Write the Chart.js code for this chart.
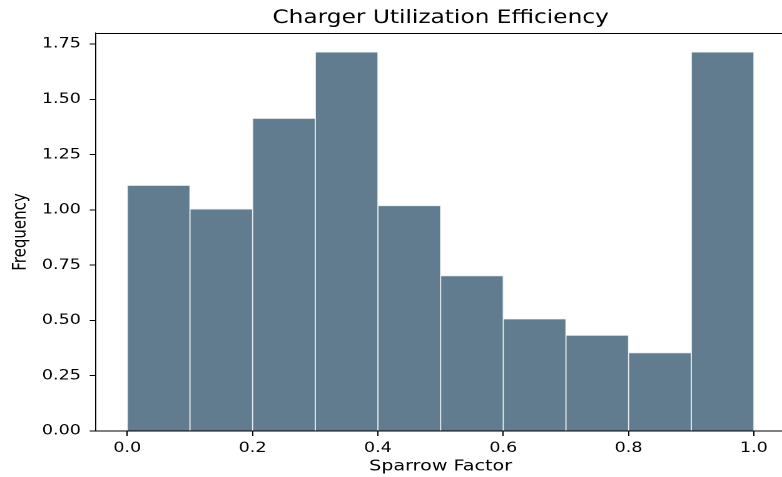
<!DOCTYPE html>
<html>
<head>
<meta charset="utf-8">
<title>Charger Utilization Efficiency</title>
<script src="https://cdn.jsdelivr.net/npm/chart.js@4"></script>
<style>
    html, body { margin: 0; padding: 0; background: #fff; overflow: hidden; }
    /* the reference is stretched sideways, so the chart is drawn narrower and scaled out */
    #wrap {
        position: absolute; left: 0; top: 0;
        width: 640px; height: 477px;
        transform: scaleX(1.2512); transform-origin: 0 0;
    }
</style>
</head>
<body>
<div id="wrap"><canvas id="histChart"></canvas></div>
<script>
// histogram data (density per bin)
const binEdges = [0.0, 0.1, 0.2, 0.3, 0.4, 0.5, 0.6, 0.7, 0.8, 0.9, 1.0];
const densities = [1.111, 1.004, 1.414, 1.714, 1.019, 0.702, 0.507, 0.433, 0.354, 1.714];
const xTicks = [0.0, 0.2, 0.4, 0.6, 0.8, 1.0];
const yTicks = [0.0, 0.25, 0.5, 0.75, 1.0, 1.25, 1.5, 1.75];

const FONT = 'DejaVu Sans';
const INK = '#000';

// bar centres come from the bin edges
const points = densities.map((d, i) => ({ x: (binEdges[i] + binEdges[i + 1]) / 2, y: d }));

// matplotlib-style top spine
const topSpine = {
    id: 'topSpine',
    afterDraw(chart) {
        const { ctx, chartArea } = chart;
        ctx.save();
        ctx.strokeStyle = INK;
        ctx.lineWidth = 1;
        ctx.beginPath();
        ctx.moveTo(chartArea.left, chartArea.top + 0.5);
        ctx.lineTo(chartArea.right, chartArea.top + 0.5);
        ctx.moveTo(chartArea.right - 0.5, chartArea.top);
        ctx.lineTo(chartArea.right - 0.5, chartArea.bottom);
        ctx.stroke();
        ctx.restore();
    }
};

new Chart(document.getElementById('histChart'), {
    type: 'bar',
    data: {
        datasets: [{
            label: 'Frequency',
            data: points,
            backgroundColor: '#607c8e',
            borderColor: '#e9eef1',
            borderWidth: 0.8,
            barPercentage: 1,
            categoryPercentage: 1
        }]
    },
    options: {
        responsive: true,
        maintainAspectRatio: false,
        animation: false,
        devicePixelRatio: 2,
        layout: { padding: { left: 4, right: 12.4, top: 0, bottom: 0 } },
        plugins: {
            legend: { display: false },
            tooltip: { enabled: false },
            title: {
                display: true,
                fullSize: false,   // centre over the plot area, like matplotlib
                text: 'Charger Utilization Efficiency',
                color: INK,
                font: { family: FONT, size: 18.6, weight: 'normal', lineHeight: 1.2 },
                padding: { top: 7, bottom: 3.7 }
            }
        },
        scales: {
            x: {
                type: 'linear',
                min: -0.05,
                max: 1.05,
                offset: false,
                afterBuildTicks: axis => { axis.ticks = xTicks.map(v => ({ value: v })); },
                afterFit: axis => { axis.height = 46; },
                grid: { display: true, offset: false, drawOnChartArea: false, drawTicks: true, tickLength: 5, tickColor: INK, tickWidth: 1 },
                border: { display: true, color: INK, width: 1 },
                ticks: {
                    color: INK,
                    padding: 4,
                    maxRotation: 0,
                    font: { family: FONT, size: 14 },
                    callback: v => v.toFixed(1)
                },
                title: {
                    display: true,
                    text: 'Sparrow Factor',
                    color: INK,
                    font: { family: FONT, size: 15.3, lineHeight: 1.2 },
                    padding: { top: 0, bottom: 1.2 }
                }
            },
            y: {
                min: 0,
                max: 1.8,
                afterBuildTicks: axis => { axis.ticks = yTicks.map(v => ({ value: v })); },
                afterFit: axis => { axis.width = 72.7; },
                grid: { display: true, drawOnChartArea: false, drawTicks: true, tickLength: 5, tickColor: INK, tickWidth: 1 },
                border: { display: true, color: INK, width: 1 },
                ticks: {
                    color: INK,
                    padding: 7,
                    font: { family: FONT, size: 14 },
                    callback: v => v.toFixed(2)
                },
                title: {
                    display: true,
                    text: 'Frequency',
                    color: INK,
                    font: { family: FONT, size: 15, lineHeight: 1.2 },
                    padding: { top: 3.6, bottom: 8 }
                }
            }
        }
    },
    plugins: [topSpine]
});
</script>
</body>
</html>
